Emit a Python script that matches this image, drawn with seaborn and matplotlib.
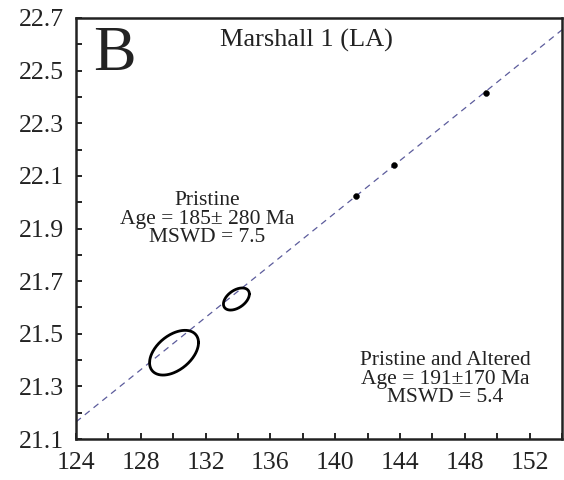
import numpy as np
import pandas as pd
import matplotlib
matplotlib.use('Agg')
import matplotlib.pyplot as plt
import seaborn as sb
from matplotlib.ticker import MultipleLocator

# analysis points (small dots on the line)
dot_x = [141.3, 143.6, 149.3]
dot_y = [22.025, 22.143, 22.415]

# error ellipses: centre, half-width in x, half-height in y, correlation
ell_x = [130.05, 133.9]
ell_y = [21.428, 21.632]
ell_sx = [1.51, 0.80]
ell_sy = [0.085, 0.042]
ell_rho = [0.45, 0.45]

# reference (isochron) line
line_x = [124, 154]
line_y = [21.165, 22.655]

x_ticks = [124, 128, 132, 136, 140, 144, 148, 152]
y_ticks = [21.1, 21.3, 21.5, 21.7, 21.9, 22.1, 22.3, 22.5, 22.7]

if __name__ == '__main__':
    sb.set_style('ticks')
    plt.rcParams['font.family'] = ['Liberation Serif', 'DejaVu Serif']

    fig = plt.figure(figsize=(5.64, 4.8), dpi=100)
    ax = fig.add_axes([0.1348, 0.0854, 0.8617, 0.8771])

    sb.lineplot(x=line_x, y=line_y, ax=ax, color='#5c5c9c', lw=0.9,
                linestyle=(0, (5, 4)))

    t = np.linspace(0, 2 * np.pi, 200)
    for cx, cy, sx, sy, r in zip(ell_x, ell_y, ell_sx, ell_sy, ell_rho):
        ex = cx + sx * np.cos(t)
        ey = cy + sy * (r * np.cos(t) + np.sqrt(1 - r ** 2) * np.sin(t))
        ax.plot(ex, ey, color='black', lw=2)

    pts = pd.DataFrame({'x': dot_x, 'y': dot_y})
    sb.scatterplot(data=pts, x='x', y='y', ax=ax, color='black', s=18,
                   edgecolor='black', zorder=5)

    ax.set_xlim(124, 154)
    ax.set_ylim(21.1, 22.7)
    ax.set_xticks(x_ticks)
    ax.set_yticks(y_ticks)
    ax.set_xticklabels([str(v) for v in x_ticks])
    ax.set_yticklabels(['%.1f' % v for v in y_ticks])
    ax.xaxis.set_minor_locator(MultipleLocator(2))
    ax.yaxis.set_minor_locator(MultipleLocator(0.1))
    ax.tick_params(which='both', direction='in', length=4, width=1.2,
                   color='black', top=False, right=False)
    ax.tick_params(which='major', labelsize=18.5, pad=9, labelcolor='#222222')
    for s in ax.spines.values():
        s.set_linewidth(1.8)
        s.set_color('#222222')
    ax.set_xlabel('')
    ax.set_ylabel('')

    ax.text(0.035, 0.98, 'B', transform=ax.transAxes, fontsize=46,
            va='top', ha='left', color='#222222')
    ax.text(0.296, 0.931, 'Marshall 1 (LA)', transform=ax.transAxes,
            fontsize=19, va='baseline', ha='left', color='#222222')
    ax.text(132.1, 21.936, 'Pristine\nAge = 185\u00b1 280 Ma\nMSWD = 7.5',
            ha='center', va='center', fontsize=15.5, linespacing=0.98,
            color='#222222')
    ax.text(146.8, 21.327, 'Pristine and Altered\nAge = 191\u00b1170 Ma\nMSWD = 5.4',
            ha='center', va='center', fontsize=15.5, linespacing=0.98,
            color='#222222')

    plt.savefig('out.png', dpi=100)
